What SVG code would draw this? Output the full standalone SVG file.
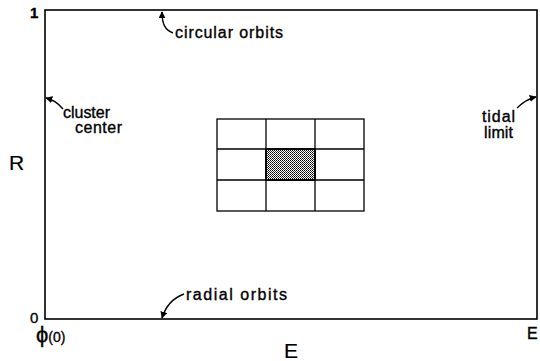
<svg xmlns="http://www.w3.org/2000/svg" width="540" height="361" viewBox="0 0 540 361">
<style>
.t{font-family:"Liberation Sans","DejaVu Sans",Arial,sans-serif;fill:#000;stroke:#000;stroke-width:0.35}
.lbl{font-size:16px}
.ax{font-size:21px;stroke-width:0.2}
.ln{fill:none;stroke:#000;stroke-width:1.6}
.gr{fill:none;stroke:#000;stroke-width:1.3}
.cv{fill:none;stroke:#000;stroke-width:1.4;marker-end:url(#ah)}
</style>
<defs>
<marker id="ah" viewBox="0 0 10 10" refX="9" refY="5" markerWidth="7" markerHeight="7" markerUnits="userSpaceOnUse" orient="auto">
<path d="M0,0 L10,5 L0,10 z" fill="#000"/>
</marker>
<pattern id="dots" width="2" height="2" patternUnits="userSpaceOnUse">
<rect width="2" height="2" fill="#fff"/>
<rect width="1" height="1" fill="#000"/>
<rect x="1" y="1" width="1" height="1" fill="#333"/>
</pattern>
</defs>
<g id="frame">
<rect class="ln" x="45" y="10" width="492" height="309"/>
</g>
<g id="grid">
<rect x="266" y="149" width="49" height="31" fill="url(#dots)"/>
<rect class="gr" x="217" y="119" width="147" height="92"/>
<line class="gr" x1="266" y1="119" x2="266" y2="211"/>
<line class="gr" x1="315" y1="119" x2="315" y2="211"/>
<line class="gr" x1="217" y1="149" x2="364" y2="149"/>
<line class="gr" x1="217" y1="180" x2="364" y2="180"/>
<rect x="266" y="149" width="49" height="31" fill="none" stroke="#000" stroke-width="1.8"/>
</g>
<g id="connectors">
<path class="cv" d="M173,33 C165,30 162,24 162,12"/>
<path class="cv" d="M63,109 C57,102 53,100 46,98"/>
<path class="cv" d="M517,108 C522,103 527,99 536,97"/>
<path class="cv" d="M184,294 C173,298 166,305 162,318"/>
</g>
<g id="label-1"><text class="t" x="30" y="18" font-size="15" font-weight="bold">1</text></g>
<g id="label-circular"><text class="t lbl" x="175" y="38" textLength="108" lengthAdjust="spacing">circular orbits</text></g>
<g id="label-cluster">
<text class="t lbl" x="63" y="118" textLength="47" lengthAdjust="spacing">cluster</text>
<text class="t lbl" x="75" y="133" textLength="47" lengthAdjust="spacing">center</text>
</g>
<g id="label-tidal">
<text class="t lbl" x="482" y="122" textLength="33" lengthAdjust="spacing">tidal</text>
<text class="t lbl" x="484" y="138" textLength="29" lengthAdjust="spacing">limit</text>
</g>
<g id="label-R"><text class="t ax" x="9" y="170">R</text></g>
<g id="label-radial"><text class="t lbl" x="186" y="300" textLength="101" lengthAdjust="spacing">radial orbits</text></g>
<g id="label-0"><text class="t" x="30" y="323" font-size="15" stroke-width="0.2">0</text></g>
<g id="label-phi"><text class="t" x="36" y="342" font-size="22">ϕ<tspan font-size="14">(0)</tspan></text></g>
<g id="label-E"><text class="t ax" x="284" y="358">E</text></g>
<g id="label-Emax"><text class="t" x="527" y="339" font-size="16" stroke-width="0.2">E</text></g>
</svg>
